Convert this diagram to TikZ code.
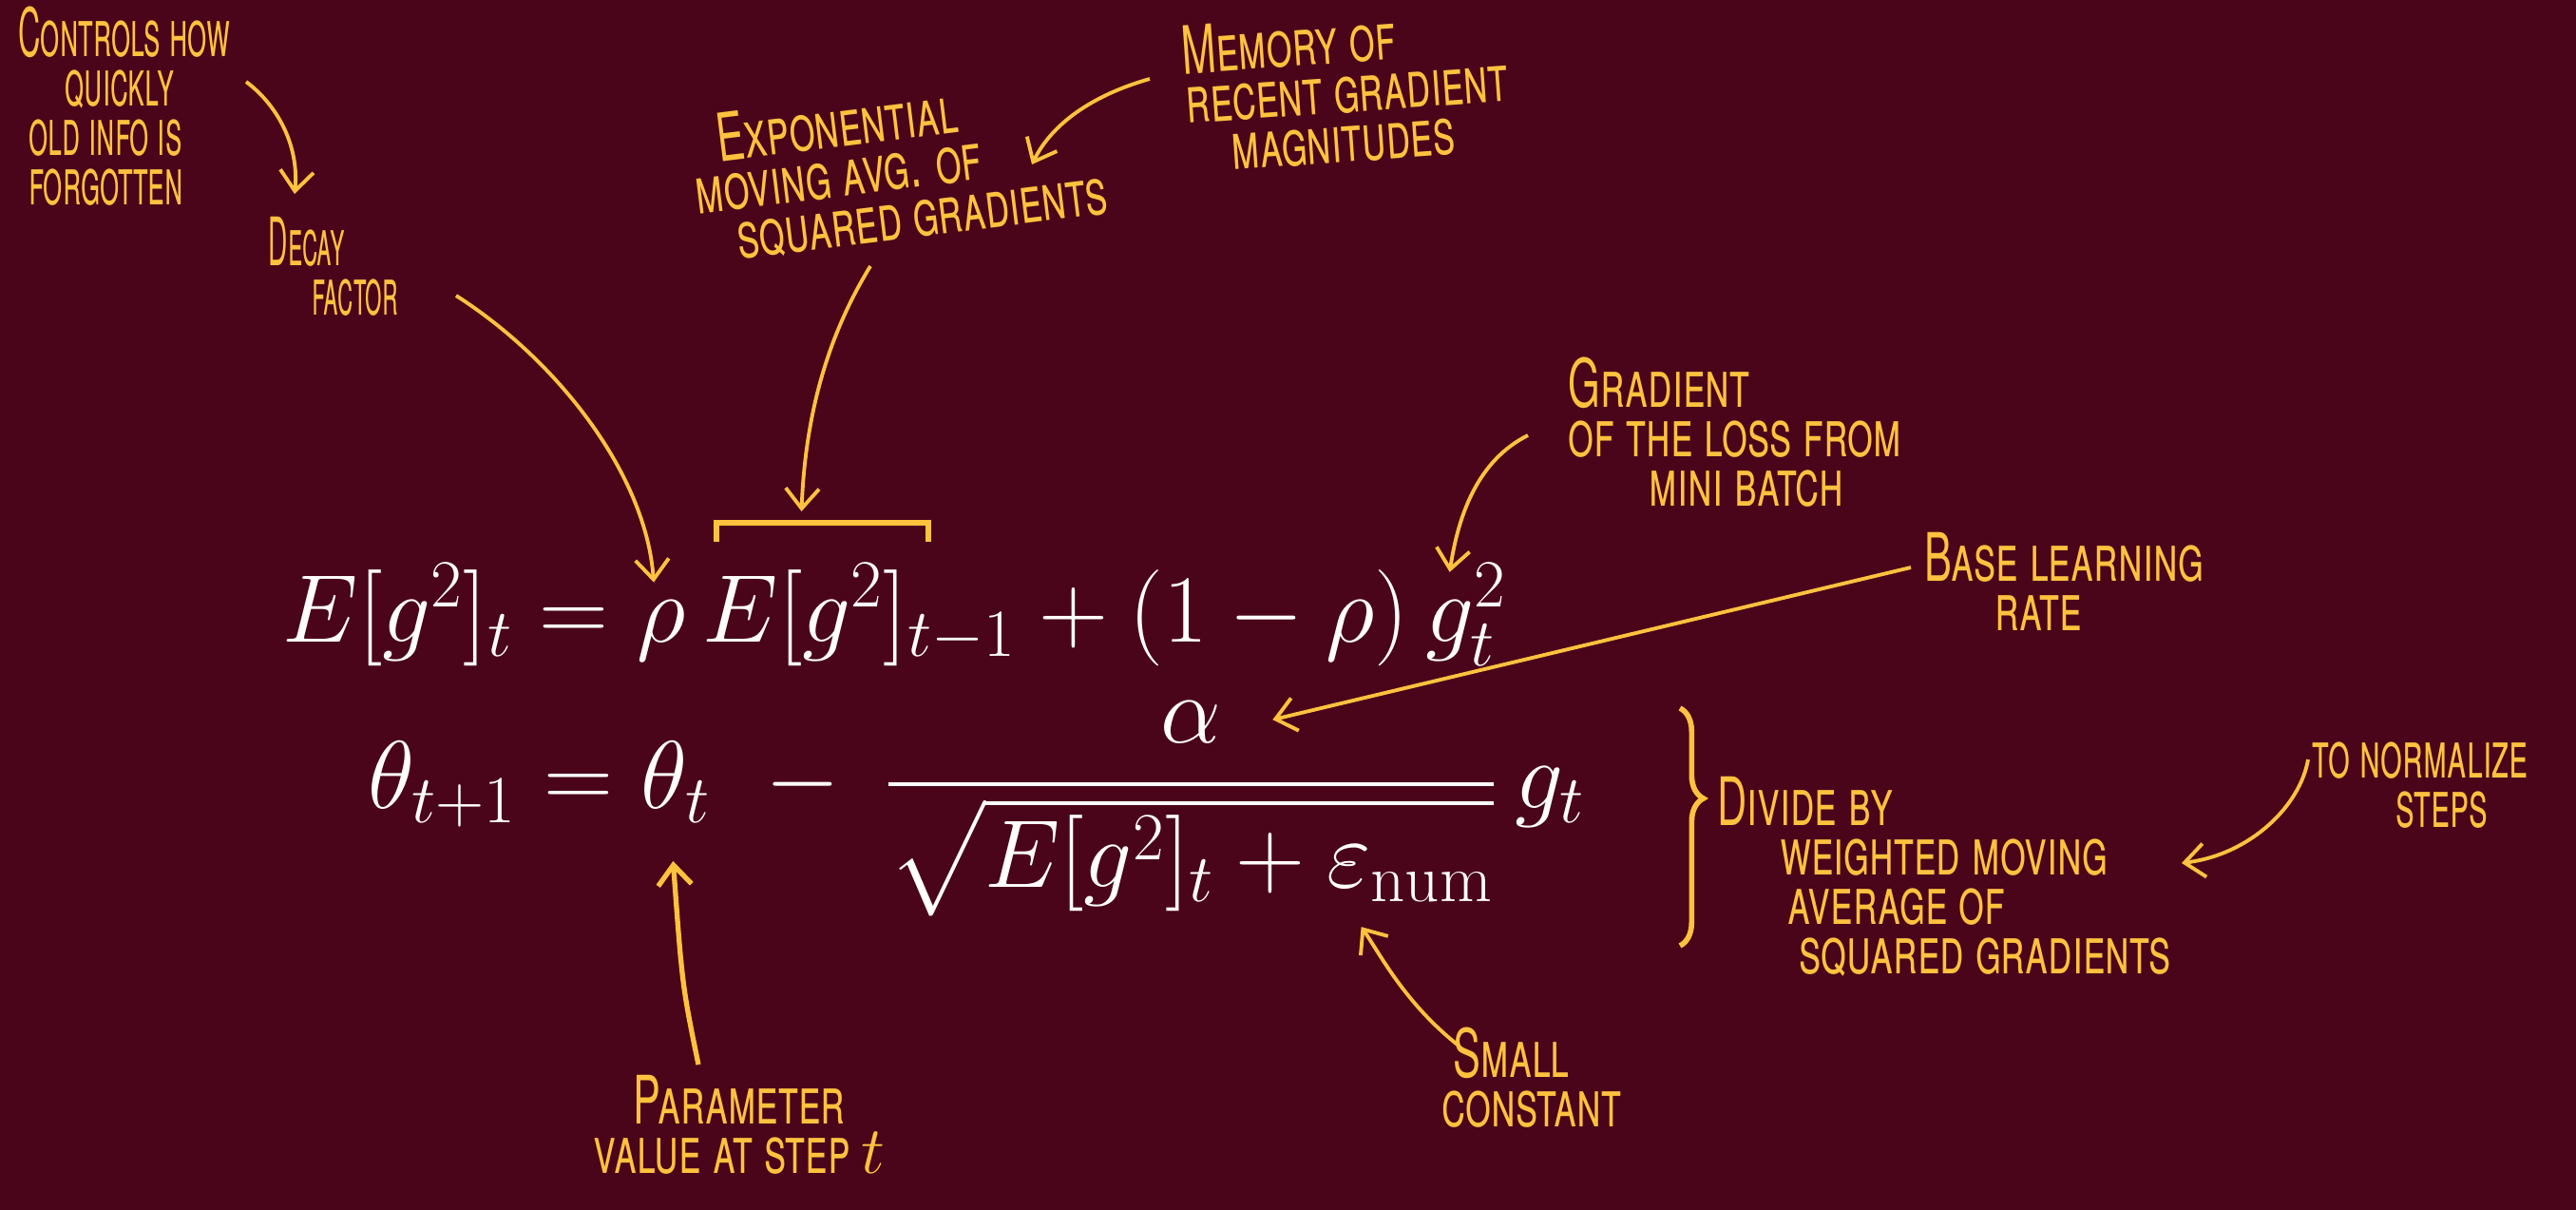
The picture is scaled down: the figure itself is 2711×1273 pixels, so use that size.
\RequirePackage{fix-cm}
\documentclass[tikz,border=0pt]{standalone}
\usepackage{amsmath,amssymb}
\usepackage{fontspec}
\newfontfamily\handfont[FakeStretch=0.615,Letters=SmallCaps]{TeX Gyre Heros}
\usepackage{tikz}
\usetikzlibrary{arrows.meta,calc,decorations.pathreplacing}
\tikzset{>=Stealth}
\usepackage{xcolor}
\definecolor{bgwine}{RGB}{74,5,26}
\definecolor{chalk}{RGB}{255,194,62}

\begin{document}
\begin{tikzpicture}[x=0.01cm, y=-0.01cm,
    note/.style={text=chalk, font=\handfont\fontsize{20}{14.8}\selectfont, align=left, inner sep=0pt},
    ptr/.style={draw=chalk, line width=1.1pt, -{Straight Barb[length=6pt,width=10pt]}},
    eqn/.style={text=white, inner sep=0pt, anchor=base west, font=\fontsize{28.8}{34}\selectfont}]
            \fill[bgwine] (0,0) rectangle (2711,1273);
            \useasboundingbox (0,0) rectangle (2711,1273);
            % E[g^2]_t = rho E[g^2]_{t-1} + (1-rho) g_t^2
            \node[eqn] (lhs) at (297,675) {$E[g^2]_t = {}$};
            \node[eqn] (rho) at (lhs.base east) {$\rho$};
            \node[eqn] (Eprev) at (rho.base east) {$\,E[g^2]_{t-1}$};
            \node[eqn] (mid) at (Eprev.base east) {${}+(1-\rho)\,$};
            \node[eqn] (gt2) at (mid.base east) {$g_t^2$};
            % theta_{t+1} = theta_t - alpha / sqrt(...) g_t
            \node[eqn] (thnext) at (387,850) {$\theta_{t+1} = {}$};
            \node[eqn] (thetat) at (thnext.base east) {$\theta_t$};
            \node[eqn] (minus) at (thetat.base east) {$\;\;-\;\,$};
            \node[eqn] (frac) at (minus.base east)
                {$\displaystyle\frac{\alpha}{\sqrt{E[g^2]_t+\varepsilon_{\mathrm{num}}}}$};
            \node[eqn] (gt) at (frac.base east) {$\,g_t$};
            % bracket over the old average, brace on the right
            \draw[chalk, line width=1.6pt] (754,570) -- (754,550)
                -- coordinate[midway] (brk) (977,550) -- (977,570);
            \draw[chalk, line width=1.6pt, decorate,
                decoration={brace, amplitude=7pt, aspect=0.38}] (1768,745) -- (1768,995);
            % notes
            \node[note, xscale=0.75] (ctrl) at (131,112) {Controls how\\\hspace{0.65cm}quickly\\\hspace{0.14cm}old info is\\\hspace{0.14cm}forgotten};
            \node[note, xscale=0.65] (decay) at (351,280) {Decay\\\hspace{0.7cm}factor};
            \node[note, rotate=7] (expo) at (945,175) {\hspace{0.29cm}Exponential\\moving avg. of\\\hspace{0.38cm}squared gradients};
            \node[note, rotate=4] (mem) at (1417,93) {Memory of\\recent gradient\\\hspace{0.45cm}magnitudes};
            \node[note] (grad) at (1826,455) {Gradient\\of the loss from\\\hspace{0.85cm}mini batch};
            \node[note] (base) at (2172,612) {Base learning\\\hspace{0.74cm}rate};
            \node[note, xscale=0.85] (norm) at (2547,826) {to normalize\\\hspace{1.03cm}steps};
            \node[note] (divide) at (2046,922) {Divide by\\\hspace{0.66cm}weighted moving\\\hspace{0.74cm}average of\\\hspace{0.86cm}squared gradients};
            \node[note, align=center] (param) at (778,1183) {Parameter\\value at step $t$};
            \node[note] (small) at (1612,1134) {\hspace{0.12cm}Small\\constant};
            % pointers
            \draw[ptr] ([shift={(128,-26)}]ctrl.center) .. controls (294,112) and (315,156) .. ([shift={(-41,-76)}]decay.center);
            \draw[ptr] ([shift={(129,31)}]decay.center) .. controls (588,380) and (680,500) .. ([shift={(-8,-18)}]rho.north);
            \draw[ptr] ([shift={(-207,-10)}]mem.center) .. controls (1150,100) and (1107,130) .. ([shift={(141,-2)}]expo.center);
            \draw[ptr] ([shift={(-29,105)}]expo.center) .. controls (865,363) and (847,450) .. ([shift={(-22,-12)}]brk);
            \draw[ptr] ([shift={(-218,3)}]grad.center) .. controls (1556,484) and (1535,540) .. ([shift={(26,10)}]gt2.north west);
            \draw[ptr] ([shift={(-161,-15)}]base.center) -- ([shift={(86,20)}]frac.north);
            \draw[ptr] ([shift={(-118,-27)}]norm.center) .. controls (2421,847) and (2369,899) .. ([shift={(250,-14)}]divide.center);
            \draw[ptr, line width=1.5pt] ([shift={(-43,-63)}]param.center) .. controls (718,1037) .. ([shift={(-3,40)}]thetat.south);
            \draw[ptr] ([shift={(-77,-34)}]small.center) .. controls (1478,1055) and (1452,1003) .. ([shift={(-144,10)}]frac.south east);
        \end{tikzpicture}
\end{document}
